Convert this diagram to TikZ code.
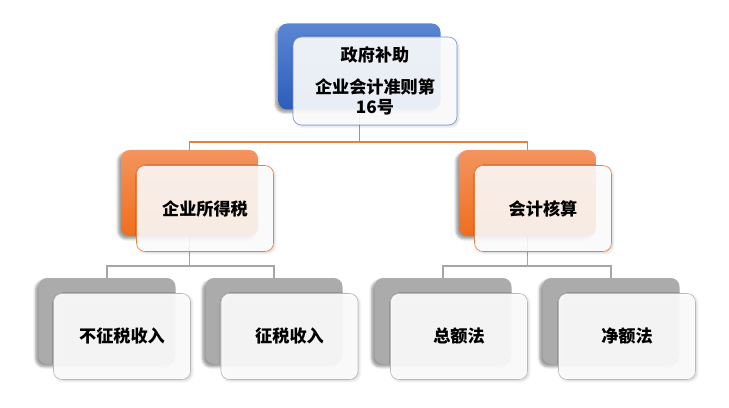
\documentclass[tikz,border=0pt]{standalone}
\usepackage{fontspec}
\newfontfamily\cjk{Noto Sans CJK SC}
\usetikzlibrary{positioning, backgrounds, shadows.blur}
\definecolor{blueTop}{HTML}{5B86D2}
\definecolor{blueBot}{HTML}{2C5DBE}
\definecolor{blueLine}{HTML}{7494D4}
\definecolor{orangeTop}{HTML}{F4945E}
\definecolor{orangeBot}{HTML}{EF6E1E}
\definecolor{orangeLine}{HTML}{EE7D3A}
\definecolor{grayBack}{HTML}{ABABAB}
\definecolor{grayLine}{HTML}{A6A6A6}
\tikzset{%
  back/.style={rectangle, rounded corners=6pt, minimum width=95.9pt, minimum height=60.2pt, inner sep=0pt, blur shadow={shadow xshift=-2pt, shadow yshift=-2pt, shadow blur steps=5}},
  blueback/.style={back, minimum width=113.4pt, top color=blueTop, bottom color=blueBot},
  orangeback/.style={back, top color=orangeTop, bottom color=orangeBot},
  grayback/.style={back, fill=grayBack},
  front/.style={rectangle, rounded corners=6pt, draw, minimum width=95.9pt, minimum height=60.2pt, inner sep=2pt, font=\cjk\bfseries\fontsize{12}{14}\selectfont, align=center, blur shadow={shadow xshift=1pt, shadow yshift=-1pt, shadow opacity=20}},
  bluefront/.style={front, minimum width=114.8pt, minimum height=61.6pt, draw=blueLine, fill=white, fill opacity=0.9, text opacity=1},
  orangefront/.style={front, draw=orangeLine, fill=white, fill opacity=0.88, text opacity=1},
  grayfront/.style={front, draw=grayLine!80, fill=white, fill opacity=0.9, text opacity=1},
  oline/.style={draw=orangeLine, line width=1.2pt},
  gline/.style={draw=grayLine, line width=1.2pt}}
\begin{document}
\begin{tikzpicture}[x=0.7pt, y=-0.7pt]
  \useasboundingbox (0,0) rectangle (729,408);

  % top
  \node [blueback] (govB) at (359.5,66.5) {};
  \node [bluefront, text width=100pt] (govF) at (375,81) {政府补助\\[8pt]企业会计准则第\\16号};

  % level 2
  \node [orangeback] (taxB) at (189.5,193) {};
  \node [orangefront] (taxF) at (205,208.5) {企业所得税};
  \node [orangeback] (accB) at (527.5,193) {};
  \node [orangefront] (accF) at (543,208.5) {会计核算};

  % level 3
  \node [grayback] (nontaxB) at (107,321) {};
  \node [grayfront] (nontaxF) at (122,336.5) {不征税收入};
  \node [grayback] (taxableB) at (274,321) {};
  \node [grayfront] (taxableF) at (289.5,336.5) {征税收入};
  \node [grayback] (grossB) at (443,321) {};
  \node [grayfront] (grossF) at (459,336.5) {总额法};
  \node [grayback] (netB) at (611,321) {};
  \node [grayfront] (netF) at (627,336.5) {净额法};

  \begin{scope}[on background layer]
    \path [oline] (govB.south) -- ++(0,32) -| (taxB.north);
    \path [oline] (govB.south) ++(0,32) -| (accB.north);
    \path [gline] (taxB.south) ++(0,30) -| (nontaxB.north);
    \path [gline] (taxB.south) -- ++(0,30) -| (taxableB.north);
    \path [gline] (accB.south) ++(0,30) -| (grossB.north);
    \path [gline] (accB.south) -- ++(0,30) -| (netB.north);
  \end{scope}
\end{tikzpicture}
\end{document}
